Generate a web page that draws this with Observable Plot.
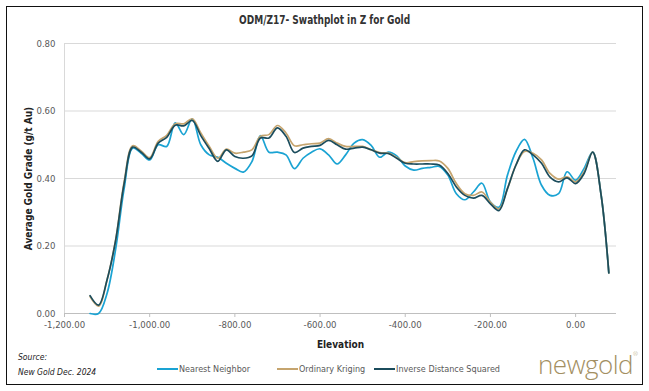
<!DOCTYPE html>
<html>
<head>
<meta charset="utf-8">
<script src="https://cdn.jsdelivr.net/npm/d3@7"></script>
<script src="https://cdn.jsdelivr.net/npm/@observablehq/plot@0.6"></script>
<style>
  html, body { margin: 0; padding: 0; background: #fff; }
  body { width: 649px; height: 391px; position: relative; overflow: hidden;
         font-family: "Liberation Sans Narrow", "DejaVu Sans Condensed", "Roboto", sans-serif; }
  #frame { position: absolute; left: 6px; top: 6px; width: 637px; height: 379px; border: 1.5px solid #111; box-sizing: border-box; }
  #title { position: absolute; left: 0; width: 649px; top: 12px; text-align: center; font-size: 12.5px; font-weight: bold; color: #333; transform: scaleX(0.8); transform-origin: 325px 0; }
  #chart { position: absolute; left: 0; top: 30px; }
  .leg { position: absolute; top: 364px; font-size: 9px; color: #595959; display: flex; align-items: center; white-space: nowrap; }
  .sw { display: inline-block; width: 21px; height: 2px; margin-right: 1px; }
  .src { position: absolute; left: 18px; font-size: 8.5px; font-style: italic; color: #222; }
  #logo { position: absolute; left: 538px; top: 346px; font-family: "Open Sans", "Lato", sans-serif; font-weight: 300; font-size: 26px; color: #a38f62; letter-spacing: -0.5px; }
  #logo sup { font-size: 6px; vertical-align: top; position: relative; top: 4px; }
</style>
</head>
<body>
<div id="frame"></div>
<div id="title">ODM/Z17- Swathplot in Z for Gold</div>
<div id="chart"></div>
<div class="src" style="top:352px">Source:</div>
<div class="src" style="top:367px">New Gold Dec. 2024</div>
<div id="legend"></div>
<div id="logo">newgold<sup>®</sup></div>
<script>
// ---- data ----
const elevation = [-1140,-1120,-1100,-1080,-1060,-1040,-1020,-1000,-980,-960,-940,-920,-900,-880,-860,-840,-820,-800,-780,-760,-740,-720,-700,-680,-660,-640,-620,-600,-580,-560,-540,-520,-500,-480,-460,-440,-420,-400,-380,-360,-340,-320,-300,-280,-260,-240,-220,-200,-180,-160,-140,-120,-100,-80,-60,-40,-20,0,20,40,60,78];

const nearestNeighbor = [0.000,0.000,0.060,0.190,0.370,0.490,0.475,0.455,0.500,0.495,0.565,0.530,0.577,0.500,0.470,0.463,0.445,0.430,0.419,0.450,0.527,0.478,0.478,0.470,0.429,0.460,0.478,0.488,0.470,0.443,0.470,0.505,0.515,0.498,0.463,0.478,0.467,0.437,0.425,0.430,0.433,0.436,0.410,0.355,0.337,0.360,0.386,0.330,0.315,0.410,0.480,0.516,0.460,0.380,0.350,0.355,0.420,0.395,0.430,0.478,0.350,0.120];

const ordinaryKriging = [0.050,0.022,0.100,0.218,0.390,0.497,0.482,0.462,0.510,0.528,0.562,0.562,0.577,0.535,0.495,0.460,0.487,0.475,0.478,0.485,0.525,0.530,0.557,0.535,0.497,0.500,0.503,0.505,0.518,0.505,0.495,0.495,0.495,0.485,0.477,0.475,0.462,0.447,0.450,0.452,0.453,0.452,0.430,0.385,0.355,0.350,0.360,0.330,0.310,0.370,0.440,0.480,0.475,0.455,0.415,0.398,0.405,0.390,0.420,0.478,0.350,0.120];

const inverseDistanceSquared = [0.053,0.025,0.100,0.216,0.385,0.493,0.478,0.458,0.505,0.522,0.558,0.556,0.572,0.527,0.488,0.451,0.485,0.465,0.460,0.467,0.520,0.520,0.550,0.525,0.477,0.490,0.495,0.498,0.513,0.500,0.487,0.490,0.493,0.485,0.475,0.474,0.460,0.445,0.443,0.443,0.443,0.440,0.415,0.375,0.350,0.342,0.350,0.325,0.305,0.370,0.440,0.485,0.470,0.445,0.404,0.390,0.402,0.385,0.415,0.478,0.350,0.120];

const seriesNames = ["Nearest Neighbor", "Ordinary Kriging", "Inverse Distance Squared"];
const seriesColors = ["#1aa3d3", "#c5a46e", "#1b4c5c"];
const xTicks = [-1200, -1000, -800, -600, -400, -200, 0];
const yTicks = [0, 0.2, 0.4, 0.6, 0.8];

// ---- build long table ----
const seriesValues = [nearestNeighbor, ordinaryKriging, inverseDistanceSquared];
const rows = [];
seriesNames.forEach((name, s) => {
  elevation.forEach((e, i) => rows.push({series: name, elevation: e, grade: seriesValues[s][i]}));
});

const fmtX = d => (d < 0 ? "-" : "") + d3.format(",.2f")(Math.abs(d));
const font = '"Liberation Sans Narrow", "DejaVu Sans Condensed", "Roboto", sans-serif';

const chart = Plot.plot({
  width: 649,
  height: 320,
  marginLeft: 64,
  marginRight: 33,
  marginTop: 13,
  marginBottom: 37,
  style: {fontFamily: font, fontSize: "9px", color: "#595959", background: "transparent"},
  x: {domain: [-1200, 96]},
  y: {domain: [0, 0.8]},
  color: {domain: seriesNames, range: seriesColors},
  marks: [
    Plot.gridY(yTicks, {stroke: "#d9d9d9", strokeOpacity: 1}),
    Plot.ruleX([-1200], {stroke: "#d9d9d9"}),
    Plot.ruleY([0], {stroke: "#bfbfbf"}),
    Plot.axisX(xTicks, {tickFormat: fmtX, tickSize: 4, stroke: "#bfbfbf", tickPadding: 4, fontSize: 9.5,
      label: "Elevation", labelAnchor: "center", labelArrow: "none", labelOffset: 34}),
    Plot.axisY(yTicks, {tickFormat: d3.format(".2f"), tickSize: 0, tickPadding: 9, fontSize: 9.5,
      label: "Average Gold Grade (g/t Au)", labelAnchor: "center", labelArrow: "none", labelOffset: 40}),
    Plot.line(rows, {x: "elevation", y: "grade", z: "series", stroke: "series",
      strokeWidth: 1.7, curve: "catmull-rom"})
  ]
});
// bold axis titles
chart.querySelectorAll("[aria-label='x-axis label'] text, [aria-label='y-axis label'] text").forEach(t => {
  t.setAttribute("font-weight", "bold"); t.setAttribute("fill", "#222"); t.setAttribute("font-size", "10");
});
document.getElementById("chart").append(chart);

// ---- legend ----
const legendX = [157, 277, 374];
const legend = document.getElementById("legend");
seriesNames.forEach((name, i) => {
  const d = document.createElement("div");
  d.className = "leg";
  d.style.left = legendX[i] + "px";
  d.innerHTML = `<span class="sw" style="background:${seriesColors[i]}"></span>${name}`;
  legend.append(d);
});
</script>
</body>
</html>
